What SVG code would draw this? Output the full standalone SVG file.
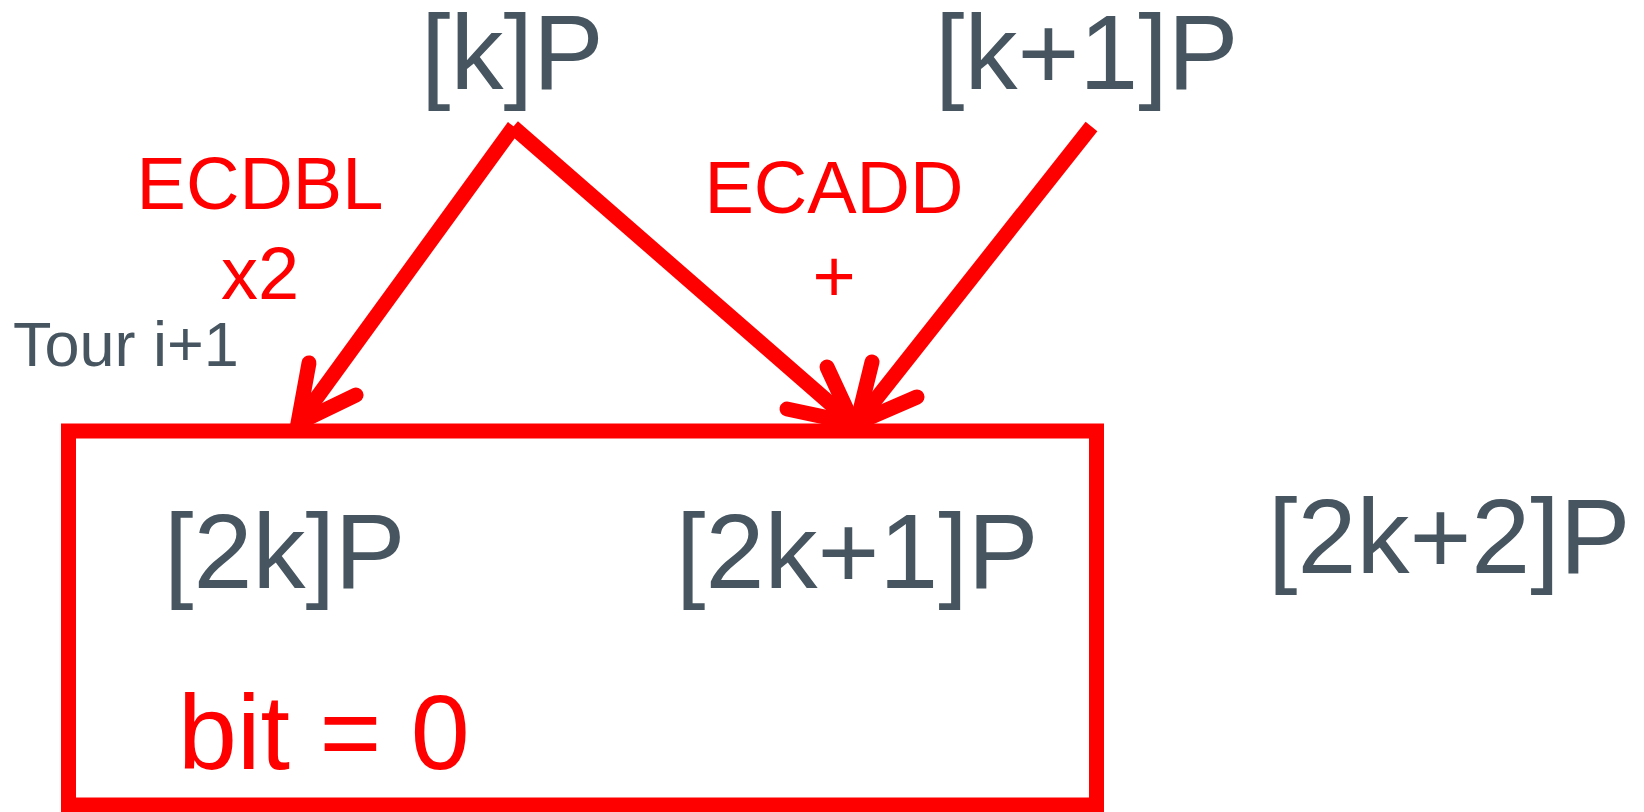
<svg xmlns="http://www.w3.org/2000/svg" width="1644" height="812" viewBox="0 0 1644 812">
<style>
.t{font-family:"Liberation Sans",Arial,sans-serif;fill:#465560}
.r{font-family:"Liberation Sans",Arial,sans-serif;fill:#FF0000}
.ln{stroke:#FF0000;stroke-width:15;fill:none;stroke-linecap:butt}
.hd{stroke:#FF0000;stroke-width:15;fill:none;stroke-linecap:round;stroke-linejoin:miter}
</style>
<rect width="1644" height="812" fill="#FFFFFF"/>
<g id="box">
<rect x="68.5" y="431" width="1028" height="374" fill="none" stroke="#FF0000" stroke-width="15"/>
</g>
<g id="kP"><text class="t" x="421" y="89" font-size="106">[k]P</text></g>
<g id="k1P"><text class="t" x="935" y="89" font-size="106">[k+1]P</text></g>
<g id="ecdbl"><text class="r" x="260" y="209" font-size="74" text-anchor="middle">ECDBL</text>
<text class="r" x="260" y="299" font-size="74" text-anchor="middle">x2</text></g>
<g id="ecadd"><text class="r" x="834" y="213" font-size="74" text-anchor="middle">ECADD</text>
<text class="r" x="834" y="302" font-size="74" text-anchor="middle">+</text></g>
<g id="tour"><text class="t" x="13" y="366" font-size="63">Tour i+1</text></g>
<g id="p2k"><text class="t" x="164" y="588" font-size="106">[2k]P</text></g>
<g id="p2k1"><text class="t" x="676" y="588" font-size="106">[2k+1]P</text></g>
<g id="p2k2"><text class="t" x="1268" y="573" font-size="106">[2k+2]P</text></g>
<g id="bit"><text class="r" x="178" y="769" font-size="106">bit = 0</text></g>
<g id="connectors">
<line class="ln" x1="514" y1="126.5" x2="302" y2="418"/>
<polyline class="hd" points="309,363 298,423 356,395"/>
<line class="ln" x1="513" y1="127" x2="848" y2="419"/>
<polyline class="hd" points="827,367 853,423 787,409"/>
<line class="ln" x1="1091.5" y1="126.5" x2="861" y2="418"/>
<polyline class="hd" points="872,362 857,423 917,397"/>
</g>
</svg>
